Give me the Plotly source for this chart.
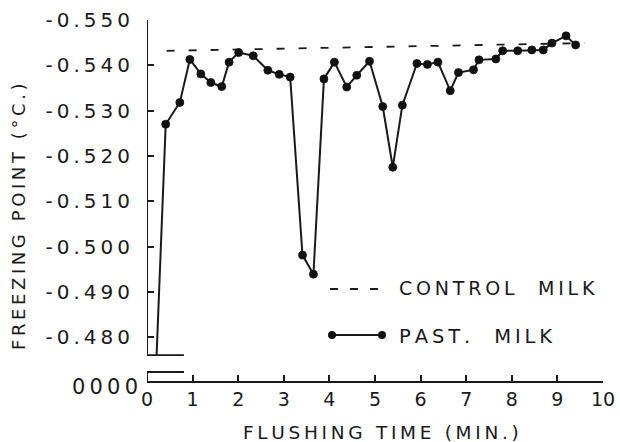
import plotly.graph_objects as go

# ---- data ----
flush_time = [0.21, 0.41, 0.72, 0.94, 1.18, 1.40, 1.64, 1.80, 2.01, 2.33, 2.65, 2.90, 3.14,
              3.41, 3.65, 3.88, 4.11, 4.38, 4.60, 4.88, 5.17, 5.39, 5.60, 5.92, 6.15,
              6.38, 6.65, 6.83, 7.16, 7.28, 7.65, 7.80, 8.13, 8.44, 8.69, 8.88, 9.19, 9.40]
past_milk_fp = [-0.4760, -0.5270, -0.5318, -0.5413, -0.5381, -0.5362, -0.5353, -0.5407, -0.5428,
                -0.5421, -0.5389, -0.5380, -0.5374, -0.4981, -0.4939, -0.5370, -0.5407, -0.5352,
                -0.5378, -0.5409, -0.5309, -0.5175, -0.5312, -0.5404, -0.5402, -0.5407, -0.5344,
                -0.5384, -0.5390, -0.5412, -0.5414, -0.5432, -0.5432, -0.5434, -0.5434, -0.5449,
                -0.5465, -0.5445]
control_time = [0.43, 9.6]
control_fp = [-0.5432, -0.5449]

y_tick_vals = [-0.550, -0.540, -0.530, -0.520, -0.510, -0.500, -0.490, -0.480]
y_tick_text = ["-0.550", "-0.540", "-0.530", "-0.520", "-0.510", "-0.500", "-0.490", "-0.480"]
x_tick_vals = [0, 1, 2, 3, 4, 5, 6, 7, 8, 9, 10]
x_tick_text = ["0", "1", "2", "3", "4", "5", "6", "7", "8", "9", "10"]
broken_label = "0000"
x_title = "FLUSHING TIME (MIN.)"
y_title = "FREEZING POINT (°C.)"
legend_control = "CONTROL MILK"
legend_past = "PAST. MILK"

INK = "#1a1a1a"
DOT = "#111111"
FONT = "DejaVu Sans"
W, H = 620, 442
L, R, T, B = 147, 17, 20, 61
PW, PH = W - L - R, H - T - B
Y_TOP, Y_BOT = -0.550, -0.550 + PH / 4530.0
BREAK_Y = -0.4760   # bottom of upper axis segment
BRACKET_Y = -0.4723


def sp(s):
    return "\u2009".join(ch if ch != " " else "\u00a0" for ch in s)


def px_x(p):
    return (p - L) / PW


def px_y(p):
    return (H - B - p) / PH


fig = go.Figure()

fig.add_trace(go.Scatter(
    x=control_time, y=control_fp, mode="lines",
    line=dict(color=INK, width=1.8, dash="8px,14px"),
    showlegend=False, hoverinfo="skip"))

sizes = [0] + [8] * (len(flush_time) - 1)
fig.add_trace(go.Scatter(
    x=flush_time, y=past_milk_fp, mode="lines+markers",
    line=dict(color=INK, width=2),
    marker=dict(color=DOT, size=sizes, opacity=1, line=dict(width=0.8, color=DOT)),
    showlegend=False, cliponaxis=False))

shapes = []
# broken y axis (upper segment)
shapes.append(dict(type="line", xref="x", yref="y", x0=0, x1=0, y0=Y_TOP, y1=BREAK_Y,
                   line=dict(color=INK, width=2)))
shapes.append(dict(type="line", xref="x", yref="y", x0=0, x1=0.81, y0=BREAK_Y, y1=BREAK_Y,
                   line=dict(color=INK, width=1.8)))
# lower bracket
shapes.append(dict(type="line", xref="x", yref="y", x0=0, x1=0.81, y0=BRACKET_Y, y1=BRACKET_Y,
                   line=dict(color=INK, width=1.8)))
shapes.append(dict(type="line", xref="x", yref="y", x0=0, x1=0, y0=BRACKET_Y, y1=Y_BOT,
                   line=dict(color=INK, width=2)))

# legend (manual)
shapes.append(dict(type="line", xref="paper", yref="paper",
                   x0=px_x(330), x1=px_x(387), y0=px_y(289), y1=px_y(289),
                   line=dict(color=INK, width=1.8, dash="8px,12px")))
shapes.append(dict(type="line", xref="paper", yref="paper",
                   x0=px_x(332), x1=px_x(382), y0=px_y(335), y1=px_y(335),
                   line=dict(color=INK, width=2)))
for cx in (332, 382):
    shapes.append(dict(type="circle", xref="paper", yref="paper",
                       x0=px_x(cx - 4), x1=px_x(cx + 4), y0=px_y(339), y1=px_y(331),
                       fillcolor=DOT, line=dict(width=0)))

annotations = [
    dict(text=sp(legend_control.replace(" ", "  ")), x=px_x(397), y=px_y(288), xref="paper", yref="paper",
         xanchor="left", yanchor="middle", showarrow=False, font=dict(family=FONT, size=19, color=INK)),
    dict(text=sp(legend_past.replace(" ", "  ")), x=px_x(397), y=px_y(336), xref="paper", yref="paper",
         xanchor="left", yanchor="middle", showarrow=False, font=dict(family=FONT, size=19.5, color=INK)),
    dict(text=sp(broken_label), x=px_x(140), y=px_y(387), xref="paper", yref="paper",
         xanchor="right", yanchor="middle", showarrow=False, font=dict(family=FONT, size=21, color=INK)),
    dict(text=sp(x_title), x=px_x(381), y=px_y(432), xref="paper", yref="paper",
         xanchor="center", yanchor="middle", showarrow=False, font=dict(family=FONT, size=18.5, color=INK)),
    dict(text=sp(y_title), x=px_x(18), y=px_y(217), xref="paper", yref="paper", textangle=-90,
         xanchor="center", yanchor="middle", showarrow=False, font=dict(family=FONT, size=18, color=INK)),
]

fig.update_layout(
    width=W, height=H, margin=dict(l=L, r=R, t=T, b=B),
    paper_bgcolor="white", plot_bgcolor="white",
    shapes=shapes, annotations=annotations, showlegend=False,
    xaxis=dict(range=[0, 10], tickvals=x_tick_vals, ticktext=x_tick_text, automargin=False,
               ticks="inside", ticklen=6, tickwidth=1.5, tickcolor=INK,
               showline=True, linecolor=INK, linewidth=2, showgrid=False, zeroline=False,
               tickfont=dict(family=FONT, size=19, color=INK)),
    yaxis=dict(range=[Y_BOT, Y_TOP], tickvals=y_tick_vals, ticktext=[sp(t) for t in y_tick_text],
               automargin=False,
               ticks="inside", ticklen=7, tickwidth=1.5, tickcolor=INK,
               showline=False, showgrid=False, zeroline=False, ticklabelstandoff=16,
               tickfont=dict(family=FONT, size=20, color=INK)),
)

fig.write_html("out.html", config={"displayModeBar": False},
               post_script="document.body.style.margin='0';document.body.style.padding='0';")
